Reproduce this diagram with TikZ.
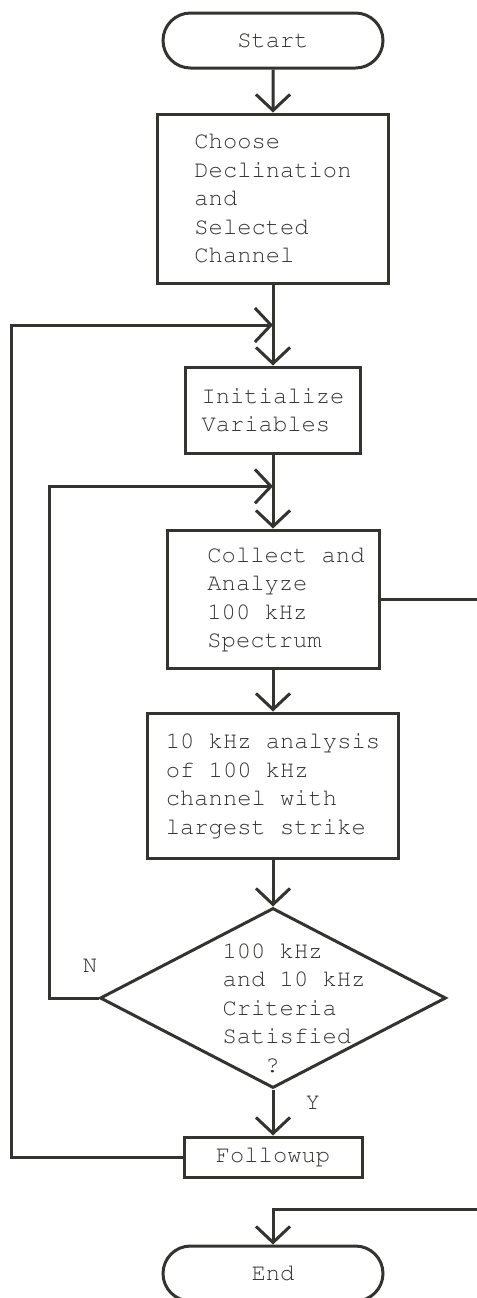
\documentclass[tikz,border=0pt]{standalone}
\usepackage[T1]{fontenc}
\usepackage{xcolor}
\usepackage{tikz}
\usetikzlibrary{positioning, arrows.meta, shapes.misc, shapes.geometric, calc}
\newcommand{\flowfont}{\fontencoding{T1}\fontfamily{pcr}\fontseries{m}\fontsize{11.9pt}{14.25pt}\selectfont}
\definecolor{InkGray}{HTML}{333330}

\begin{document}
\begin{tikzpicture}[
            node distance=20pt,
            termbox/.style={draw=InkGray, line width=1.5pt, rounded rectangle, minimum width=110pt, minimum height=27.5pt, inner sep=0pt, text=InkGray, font=\flowfont},
            procbox/.style={draw=InkGray, line width=1.5pt, rectangle, inner sep=0pt, align=left, text=InkGray, font=\flowfont},
            decbox/.style={draw=InkGray, line width=1.5pt, diamond, minimum width=173pt, minimum height=90pt, inner sep=0pt},
            boxtext/.style={text=InkGray, align=left, inner sep=0pt, font=\flowfont},
            arrow/.style={-{Straight Barb[length=8pt, width=17pt]}, line width=1.5pt, draw=InkGray},
            lbl/.style={text=InkGray, inner sep=0pt, font=\flowfont}
        ]
            \useasboundingbox (0,0) rectangle (238.5pt,-649pt);

            \node[termbox] (start) at (136.5pt,-20.25pt) {Start};

            \node[procbox, below=21.5pt of start, minimum width=115.5pt, minimum height=84.5pt] (choose) {
                Choose\\Declination\\and\\Selected\\Channel
            };

            \node[procbox, below=40.5pt of choose, minimum width=87.5pt, minimum height=43pt] (init) {
                Initialize\\Variables
            };

            \node[procbox, below=37pt of init, minimum width=106pt, minimum height=69pt,
                label={[boxtext, xshift=6.5pt]center:{Collect and\\Analyze\\100 kHz\\Spectrum}}] (collect) {};

            \node[procbox, below=21pt of collect, minimum width=125.5pt, minimum height=72.5pt] (narrow) {
                10 kHz analysis\\of 100 kHz\\channel with\\largest strike
            };

            \node[decbox, below=23.5pt of narrow,
                label={[boxtext, xshift=10.5pt, yshift=-5pt]center:{100 kHz\\and 10 kHz\\Criteria\\Satisfied\\\phantom{Sat}?}}] (crit) {};

            \node[procbox, below=23pt of crit, minimum width=89pt, minimum height=20pt] (followup) {Followup};

            \node[termbox, below=33pt of followup] (stop) {End};

            % loop entry points
            \coordinate (join1) at ($(choose.south)!0.5!(init.north)$);
            \coordinate (join2) at ($(init.south)!0.43!(collect.north)$);

            \draw[arrow] (start) -- (choose);
            \draw[arrow] (choose) -- (init);
            \draw[arrow] (init) -- (collect);
            \draw[arrow] (collect) -- (narrow);
            \draw[arrow] (narrow) -- (crit);
            \draw[arrow] (crit) -- (followup) node[lbl, pos=0.3, right=15.5pt] (yes) {Y};

            \node[lbl, above left=12.5pt and 0.5pt of crit.west] (no) {N};
            \draw[arrow] (crit.west) -- ++(-24.5pt,0) |- (join2);
            \draw[arrow] (followup.west) -- ++(-85.5pt,0) |- (join1);

            \draw[arrow] (collect.east) -- ++(62pt,0) |- ($(stop.north)+(0,17.5pt)$) -- (stop.north);

        \end{tikzpicture}
\end{document}
